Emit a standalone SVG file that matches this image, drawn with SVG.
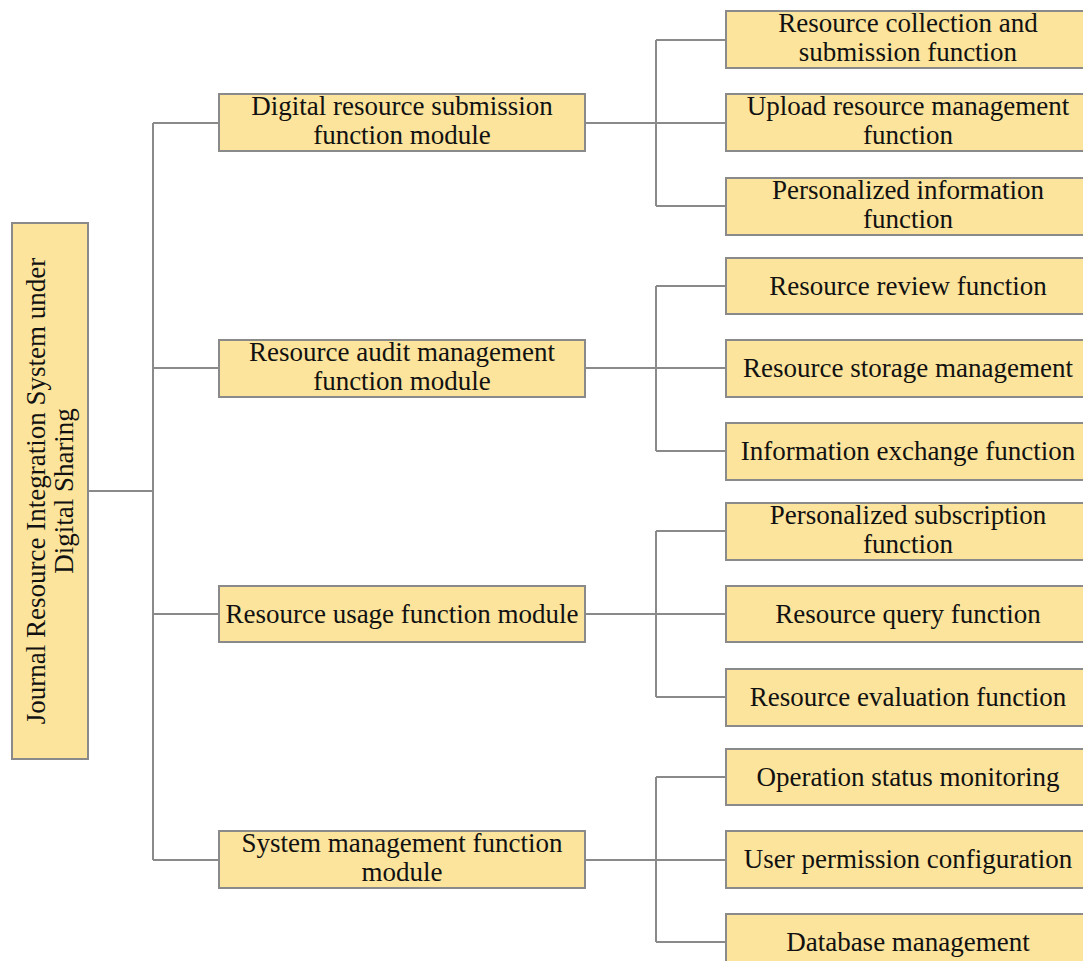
<svg xmlns="http://www.w3.org/2000/svg" width="1083" height="961" viewBox="0 0 1083 961">
<style>
.box{fill:#FCE49C;stroke:#8a8a8a;stroke-width:2}
.ln{stroke:#8a8a8a;stroke-width:2;fill:none}
text{font-family:"Liberation Serif","Times New Roman",serif;font-size:27px;fill:#111;text-anchor:middle}
</style>
<rect width="1083" height="961" fill="#fff"/>
<g id="connectors">
<path class="ln" d="M88 491H153M153 123V860M153 123H219M153 368H219M153 614H219M153 860H219"/>
<path class="ln" d="M585 123H726M656 40V206M656 40H726M656 206H726"/>
<path class="ln" d="M585 368H726M656 286V451M656 286H726M656 451H726"/>
<path class="ln" d="M585 614H726M656 531V697M656 531H726M656 697H726"/>
<path class="ln" d="M585 860H726M656 777V942M656 777H726M656 942H726"/>
</g>
<g id="root"><rect class="box" x="12" y="223" width="76" height="536"/>
<text transform="translate(50 491) rotate(-90)"><tspan x="0" y="-5">Journal Resource Integration System under</tspan><tspan x="0" y="23">Digital Sharing</tspan></text></g>
<g id="m1"><rect class="box" x="219" y="94" width="366" height="57"/><text x="402" y="115">Digital resource submission</text><text x="402" y="144">function module</text></g>
<g id="m2"><rect class="box" x="219" y="340" width="366" height="57"/><text x="402" y="361">Resource audit management</text><text x="402" y="390">function module</text></g>
<g id="m3"><rect class="box" x="219" y="586" width="366" height="56"/><text x="402" y="623">Resource usage function module</text></g>
<g id="m4"><rect class="box" x="219" y="831" width="366" height="57"/><text x="402" y="852">System management function</text><text x="402" y="881">module</text></g>
<g id="f1"><rect class="box" x="726" y="11" width="360" height="57"/><text x="908" y="32">Resource collection and</text><text x="908" y="61">submission function</text></g>
<g id="f2"><rect class="box" x="726" y="94" width="360" height="57"/><text x="908" y="115">Upload resource management</text><text x="908" y="144">function</text></g>
<g id="f3"><rect class="box" x="726" y="178" width="360" height="57"/><text x="908" y="199">Personalized information</text><text x="908" y="228">function</text></g>
<g id="f4"><rect class="box" x="726" y="258" width="360" height="56"/><text x="908" y="295">Resource review function</text></g>
<g id="f5"><rect class="box" x="726" y="340" width="360" height="57"/><text x="908" y="377">Resource storage management</text></g>
<g id="f6"><rect class="box" x="726" y="423" width="360" height="57"/><text x="908" y="460">Information exchange function</text></g>
<g id="f7"><rect class="box" x="726" y="503" width="360" height="57"/><text x="908" y="524">Personalized subscription</text><text x="908" y="553">function</text></g>
<g id="f8"><rect class="box" x="726" y="586" width="360" height="56"/><text x="908" y="623">Resource query function</text></g>
<g id="f9"><rect class="box" x="726" y="669" width="360" height="57"/><text x="908" y="706">Resource evaluation function</text></g>
<g id="f10"><rect class="box" x="726" y="749" width="360" height="56"/><text x="908" y="786">Operation status monitoring</text></g>
<g id="f11"><rect class="box" x="726" y="831" width="360" height="57"/><text x="908" y="868">User permission configuration</text></g>
<g id="f12"><rect class="box" x="726" y="914" width="360" height="60"/><text x="908" y="951">Database management</text></g>
</svg>
